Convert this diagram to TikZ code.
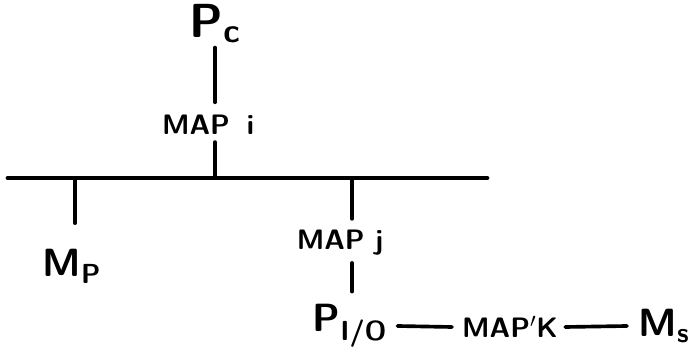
\documentclass[tikz,border=0pt]{standalone}
\usepackage{tikz}
\usetikzlibrary{positioning}
\tikzstyle{lbl} = [font=\sffamily\bfseries\fontsize{20}{24}\selectfont, inner sep=2pt]
\tikzstyle{big} = [font=\sffamily\bfseries\fontsize{28}{32}\selectfont, inner sep=2pt]
\tikzstyle{bus} = [line width=3.5pt, line cap=round]
\tikzstyle{wire} = [line width=2.6pt, line cap=round]

\begin{document}
\begin{tikzpicture}[x=0.025cm, y=-0.025cm]
\useasboundingbox (0,0) rectangle (693,354);
% Bus
\coordinate (busl) at (8,178);
\coordinate (busr) at (487,178);
\coordinate (tapm) at (75,178);
\coordinate (tapi) at (215,178);
\coordinate (tapj) at (352,178);
\draw[bus] (busl) -- (busr);

% Processor on top
\node[big, font=\sffamily\bfseries\fontsize{34}{36}\selectfont, anchor=north, inner sep=0pt] (pc) at (215,4) {P\textsubscript{c}};
\node[lbl] (mapi) at (208,125) {MAP\hspace{0.6em}i};
\draw[wire] ([yshift=-3pt]tapi |- pc.south) -- ([yshift=7pt]tapi |- mapi.north);
\draw[wire] ([yshift=-3pt]tapi |- mapi.south) -- (tapi);

% Memory on the left
\node[big] (mp) at (72,266) {M\textsubscript{P}};
\draw[wire] (tapm) -- ([yshift=16pt]tapm |- mp.north);

% I/O processor branch
\node[lbl] (mapj) at (340,243) {MAP j};
\draw[wire] (tapj) -- ([yshift=6pt]tapj |- mapj.north);
\node[big] (pio) at (350,326) {P\textsubscript{I/O}};
\draw[wire] ([yshift=-3pt]tapj |- mapj.south) -- ([yshift=7pt]tapj |- pio.north);
\node[lbl] (mapk) at (510,327) {MAP$'$K};
\node[big] (ms) at (664,326) {M\textsubscript{s}};
\draw[wire] ([xshift=5pt]pio.east) -- ([xshift=-5pt]mapk.west);
\draw[wire] ([xshift=3pt]mapk.east) -- ([xshift=-6pt]ms.west);
\end{tikzpicture}
\end{document}
